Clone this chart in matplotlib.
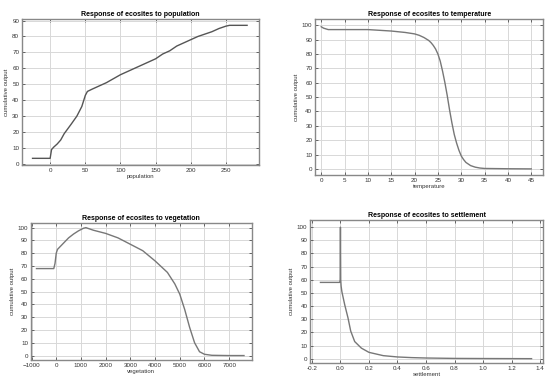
import matplotlib
matplotlib.use('Agg')
import matplotlib.pyplot as plt

plt.rcParams['font.family'] = ['Liberation Sans', 'DejaVu Sans']

# population response
pop_x = [-25, 0, 2, 5, 10, 15, 20, 30, 38, 45, 50, 53, 60, 80, 100, 120, 140, 150,
         160, 170, 180, 190, 200, 210, 220, 230, 240, 250, 255, 280]
pop_y = [3.5, 3.5, 9, 10.5, 12.5, 15, 19, 25, 30, 36, 43, 45.5, 47, 51, 56, 60, 64, 66,
         69, 71, 74, 76, 78, 80, 81.5, 83, 85, 86.5, 87, 87]

# temperature response
temp_x = [0, 0.5, 1.5, 5, 10, 15, 18, 20, 21, 22, 23, 23.5, 24, 24.5, 25, 25.5, 26, 26.5,
          27, 27.5, 28, 28.5, 29, 29.5, 30, 30.5, 31, 32, 33, 34, 35, 40, 45]
temp_y = [99, 98, 97, 97, 97, 96, 95, 94, 93, 91.5, 89.5, 88, 86, 83.5, 80, 75, 68, 60,
          51, 41, 32, 24, 18, 13, 9, 6.5, 4.5, 2.3, 1.2, 0.6, 0.3, 0.1, 0]

# vegetation response
veg_x = [-800, -100, -50, 0, 50, 200, 300, 500, 700, 900, 1100, 1200, 1500, 2000, 2500,
         3000, 3500, 4000, 4500, 4800, 5000, 5200, 5400, 5600, 5800, 6000, 6300, 7000, 7600]
veg_y = [68, 68, 72, 80, 83, 86, 88, 92, 95, 97.5, 99.5, 100, 98, 95.5, 92,
         87, 82, 74, 65, 56, 48, 36, 22, 10, 3, 1, 0.2, 0, 0]

# settlement response
set_x = [-0.14, -0.005, -0.002, 0, 0.002, 0.005, 0.01, 0.03, 0.053, 0.072, 0.1, 0.147,
         0.2, 0.3, 0.4, 0.5, 0.6, 0.8, 1.0, 1.34]
set_y = [58, 58, 60, 100, 60, 55, 51, 41, 31, 21, 13, 8,
         4.8, 2.3, 1.3, 0.8, 0.5, 0.2, 0.1, 0]

fig = plt.figure(figsize=(5.5, 3.87), dpi=100)

panels = [
    ([0.040, 0.574, 0.431, 0.377], pop_x, pop_y, 'population', (-40, 297), (-0.6, 91),
     range(0, 300, 50), range(0, 100, 10), '#555555'),
    ([0.573, 0.548, 0.415, 0.403], temp_x, temp_y, 'temperature', (-1.3, 47.6), (-4.2, 104.4),
     range(0, 50, 5), range(0, 110, 10), '#777777'),
    ([0.056, 0.070, 0.402, 0.354], veg_x, veg_y, 'vegetation', (-1030, 7920), (-3.4, 103.7),
     range(-1000, 8000, 1000), range(0, 110, 10), '#777777'),
    ([0.564, 0.062, 0.424, 0.370], set_x, set_y, 'settlement', (-0.212, 1.423), (-3.3, 105.6),
     [-0.2, 0, 0.2, 0.4, 0.6, 0.8, 1.0, 1.2, 1.4], range(0, 110, 10), '#777777'),
]

for pos, x, y, name, xl, yl, xt, yt, col in panels:
    ax = fig.add_axes(pos)
    ax.plot(x, y, color=col, lw=1.0)
    ax.set_xlim(xl)
    ax.set_ylim(yl)
    ax.set_xticks(list(xt))
    ax.set_yticks(list(yt))
    if name == 'settlement':
        ax.set_xticklabels(['-0.2', '0.0', '0.2', '0.4', '0.6', '0.8', '1.0', '1.2', '1.4'])
    ax.grid(True, color='#d8d8d8', lw=0.7)
    ax.tick_params(direction='in', length=2, width=0.5, labelsize=4.5, pad=2,
                   top=True, right=True, colors='#333333')
    for s in ax.spines.values():
        s.set_color('#888888')
        s.set_linewidth(1.0)
    ax.set_title('Response of ecosites to ' + name, fontsize=5, fontweight='bold', pad=2)
    ax.set_xlabel(name, fontsize=4.3, labelpad=1, color='#333333')
    ax.set_ylabel('cumulative output', fontsize=4.3, labelpad=2, color='#333333')

fig.savefig('out.png', dpi=100)
